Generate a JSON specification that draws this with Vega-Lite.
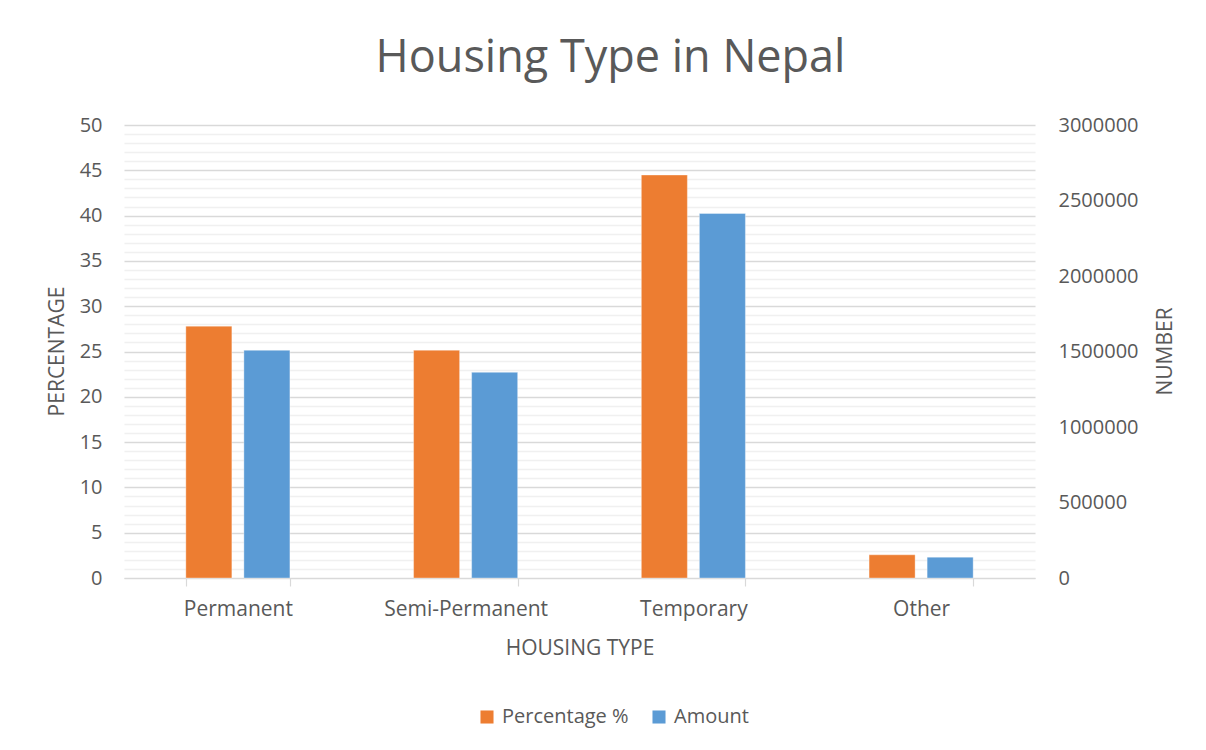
{
  "$schema": "https://vega.github.io/schema/vega-lite/v6.json",
  "width": 911,
  "height": 453,
  "autosize": "none",
  "padding": {"left": 124, "top": 125, "right": 171, "bottom": 172},
  "background": "white",
  "title": {
    "text": "Housing Type in Nepal",
    "font": "Open Sans",
    "fontSize": 45,
    "fontWeight": "normal",
    "color": "#595959",
    "anchor": "middle",
    "dx": 31,
    "offset": 34
  },
  "config": {
    "view": {"stroke": null},
    "font": "Open Sans",
    "axis": {
      "labelFont": "Open Sans",
      "titleFont": "Open Sans",
      "labelFontSize": 20,
      "titleFontSize": 21,
      "labelColor": "#595959",
      "titleColor": "#595959",
      "titleFontWeight": "normal"
    }
  },
  "data": {
    "values": [
      {"type": "Permanent", "series": "Percentage %", "value": 27.8},
      {"type": "Permanent", "series": "Amount", "value": 1508000},
      {"type": "Semi-Permanent", "series": "Percentage %", "value": 25.14},
      {"type": "Semi-Permanent", "series": "Amount", "value": 1362000},
      {"type": "Temporary", "series": "Percentage %", "value": 44.48},
      {"type": "Temporary", "series": "Amount", "value": 2414000},
      {"type": "Other", "series": "Percentage %", "value": 2.56},
      {"type": "Other", "series": "Amount", "value": 138000}
    ]
  },
  "encoding": {
    "x": {
      "field": "type",
      "type": "nominal",
      "sort": ["Permanent", "Semi-Permanent", "Temporary", "Other"],
      "scale": {"paddingInner": 0.543, "paddingOuter": 0.2715},
      "axis": {
        "title": "HOUSING TYPE",
        "labelAngle": 0,
        "labelFontSize": 21,
        "tickBand": "extent",
        "domainColor": "#d9d9d9",
        "domainWidth": 1.2,
        "tickColor": "#d9d9d9",
        "tickWidth": 1.2,
        "tickSize": 8,
        "labelPadding": 12,
        "grid": false,
        "titlePadding": 18
      }
    },
    "xOffset": {
      "field": "series",
      "type": "nominal",
      "sort": ["Percentage %", "Amount"],
      "scale": {"paddingInner": 0.207, "paddingOuter": 0}
    },
    "color": {
      "field": "series",
      "type": "nominal",
      "scale": {"domain": ["Percentage %", "Amount"], "range": ["#ED7D31", "#5B9BD5"]},
      "legend": {
        "orient": "none",
        "legendX": 353,
        "legendY": 582,
        "direction": "horizontal",
        "title": null,
        "symbolType": "square",
        "symbolSize": 170,
        "symbolStrokeWidth": 0,
        "symbolOpacity": 1,
        "labelFont": "Open Sans",
        "labelFontSize": 20,
        "labelColor": "#595959",
        "columnPadding": 20,
        "labelOffset": 5
      }
    }
  },
  "layer": [
    {
      "transform": [{"filter": "datum.series === 'Percentage %'"}],
      "mark": {"type": "bar", "stroke": "#ffffff", "strokeOpacity": 0.35, "strokeWidth": 1},
      "encoding": {
        "y": {
          "field": "value",
          "type": "quantitative",
          "scale": {"domain": [0, 50]},
          "axis": {
            "title": "PERCENTAGE",
            "values": [0,1,2,3,4,5,6,7,8,9,10,11,12,13,14,15,16,17,18,19,20,21,22,23,24,25,26,27,28,29,30,31,32,33,34,35,36,37,38,39,40,41,42,43,44,45,46,47,48,49,50],
            "labelExpr": "datum.value % 5 === 0 ? datum.label : ''",
            "labelOverlap": false,
            "gridColor": {"condition": {"test": "datum.value % 5 === 0", "value": "#d9d9d9"}, "value": "#f0f0f0"},
            "gridWidth": 1.3,
            "domain": false,
            "ticks": false,
            "tickSize": 0,
            "labelPadding": 22,
            "titleX": -67,
            "titleY": 226,
            "titleBaseline": "middle",
            "titleAlign": "center"
          }
        }
      }
    },
    {
      "transform": [{"filter": "datum.series === 'Amount'"}],
      "mark": {"type": "bar", "stroke": "#ffffff", "strokeOpacity": 0.35, "strokeWidth": 1},
      "encoding": {
        "y": {
          "field": "value",
          "type": "quantitative",
          "scale": {"domain": [0, 3000000]},
          "axis": {
            "orient": "right",
            "title": "NUMBER",
            "titleAngle": 270,
            "titleX": 130,
            "titleY": 226,
            "titleBaseline": "middle",
            "titleAlign": "center",
            "values": [0, 500000, 1000000, 1500000, 2000000, 2500000, 3000000],
            "format": "d",
            "grid": false,
            "domain": false,
            "ticks": false,
            "tickSize": 0,
            "labelPadding": 23
          }
        }
      }
    }
  ],
  "resolve": {"scale": {"y": "independent"}, "axis": {"y": "independent"}}
}
